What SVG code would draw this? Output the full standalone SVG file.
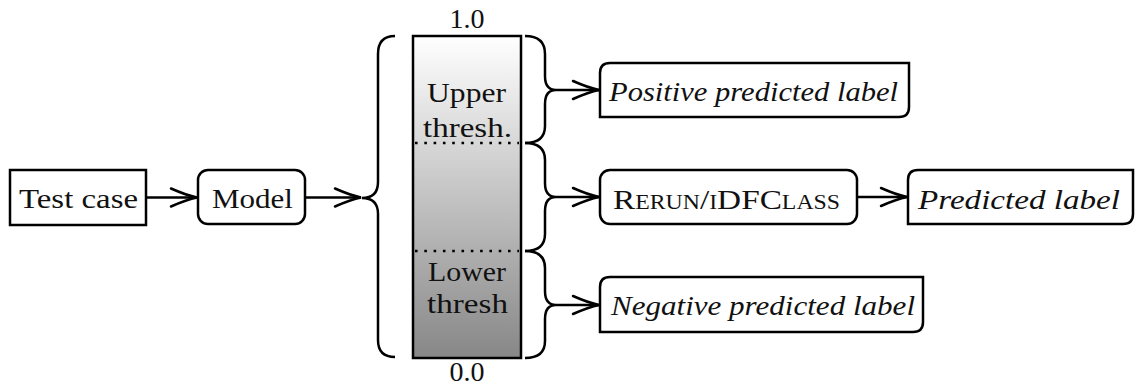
<svg xmlns="http://www.w3.org/2000/svg" width="1136" height="386" viewBox="0 0 1136 386" font-family="'Liberation Serif', 'Times New Roman', Times, serif">
<style>
.box{fill:#fff;stroke:#000;stroke-width:2.5}
.ln{fill:none;stroke:#000;stroke-width:2.5}
text{font-family:"Liberation Serif","Times New Roman",Times,serif;font-size:28px;fill:#111}
.i{font-style:italic}
.c{text-anchor:middle}
</style>
<defs>
<linearGradient id="g" x1="0" y1="0" x2="0" y2="1">
<stop offset="0" stop-color="#ffffff"/>
<stop offset="1" stop-color="#878787"/>
</linearGradient>
<marker id="ah" markerUnits="userSpaceOnUse" markerWidth="30" markerHeight="24" viewBox="-28 -12 30 24" refX="0" refY="0" orient="auto">
<path d="M-26,-9 Q-10,-2 0,0 Q-10,2 -26,9" fill="none" stroke="#000" stroke-width="2.5" stroke-linecap="round"/>
</marker>
</defs>

<g id="test-case">
<rect class="box" x="10" y="170" width="136" height="55"/>
<text x="19" y="208" textLength="119" lengthAdjust="spacingAndGlyphs">Test case</text>
</g>
<g id="model">
<rect class="box" x="198" y="170" width="107" height="54" rx="10"/>
<text x="212" y="208" textLength="81" lengthAdjust="spacingAndGlyphs">Model</text>
</g>
<g id="bar">
<rect x="413" y="36" width="108" height="322" fill="url(#g)" stroke="#000" stroke-width="2.5"/>
<line x1="415" y1="143" x2="519" y2="143" stroke="#000" stroke-width="2.6" stroke-dasharray="2.6 6.7" stroke-linecap="butt"/>
<line x1="415" y1="251" x2="519" y2="251" stroke="#000" stroke-width="2.6" stroke-dasharray="2.6 6.7" stroke-linecap="butt"/>
<text class="c" x="467" y="28">1.0</text>
<text class="c" x="467" y="381">0.0</text>
<text x="427" y="102" textLength="79" lengthAdjust="spacingAndGlyphs">Upper</text>
<text x="423" y="137" textLength="89" lengthAdjust="spacingAndGlyphs">thresh.</text>
<text x="428" y="281" textLength="78" lengthAdjust="spacingAndGlyphs">Lower</text>
<text x="427" y="313" textLength="81" lengthAdjust="spacingAndGlyphs">thresh</text>
</g>
<g id="positive">
<path class="box" d="M600,117 V73 Q600,63 610,63 H909 V107 Q909,117 899,117 Z"/>
<text class="i" x="609" y="101" textLength="289" lengthAdjust="spacingAndGlyphs">Positive predicted label</text>
</g>
<g id="rerun">
<rect class="box" x="600" y="170" width="257" height="54" rx="10"/>
<text x="613" y="209" font-variant="small-caps" textLength="227" lengthAdjust="spacingAndGlyphs">Rerun/iDFClass</text>
</g>
<g id="predicted">
<path class="box" d="M908,224 V180 Q908,170 918,170 H1133 V214 Q1133,224 1123,224 Z"/>
<text class="i" x="918" y="209" textLength="202" lengthAdjust="spacingAndGlyphs">Predicted label</text>
</g>
<g id="negative">
<path class="box" d="M600,332 V287 Q600,277 610,277 H923 V322 Q923,332 913,332 Z"/>
<text class="i" x="611" y="315" textLength="304" lengthAdjust="spacingAndGlyphs">Negative predicted label</text>
</g>

<g id="connectors">
<path class="ln" d="M395,36 Q378,36 378,54 L378,182 Q378,198 362,198 Q378,198 378,214 L378,340 Q378,357 395,357"/>
<path class="ln" d="M525,36 Q545,36 545,54 L545,76 Q545,90 556,90 Q545,90 545,104 L545,126 Q545,143 525,143"/>
<path class="ln" d="M525,143 Q545,143 545,160 L545,183 Q545,197 556,197 Q545,197 545,211 L545,234 Q545,251 525,251"/>
<path class="ln" d="M525,251 Q545,251 545,268 L545,291 Q545,305 556,305 Q545,305 545,319 L545,341 Q545,358 525,358"/>
<line class="ln" x1="146" y1="197.5" x2="197" y2="197.5" marker-end="url(#ah)"/>
<line class="ln" x1="305" y1="197.5" x2="361" y2="197.5" marker-end="url(#ah)"/>
<line class="ln" x1="556" y1="90" x2="599" y2="90" marker-end="url(#ah)"/>
<line class="ln" x1="556" y1="197" x2="599" y2="197" marker-end="url(#ah)"/>
<line class="ln" x1="556" y1="305" x2="599" y2="305" marker-end="url(#ah)"/>
<line class="ln" x1="857" y1="197" x2="907" y2="197" marker-end="url(#ah)"/>
</g>
</svg>
